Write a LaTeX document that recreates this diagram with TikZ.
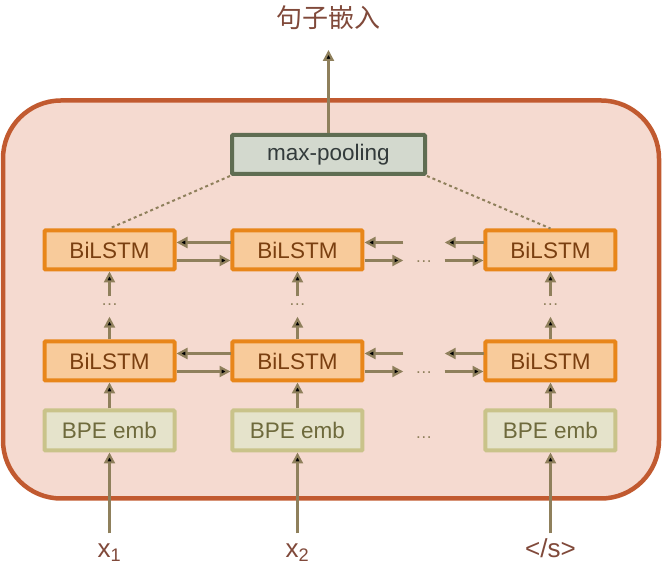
\documentclass[tikz,border=0pt]{standalone}
\usepackage{fontspec}
\setmainfont{Liberation Sans}
\newfontfamily\cjk{Noto Sans CJK SC}
\usepackage{tikz}
\usetikzlibrary{matrix,positioning,arrows.meta}

\definecolor{enclline}{HTML}{C15A30}
\definecolor{enclfill}{HTML}{F5DAD0}
\definecolor{poolline}{HTML}{5F6D52}
\definecolor{poolfill}{HTML}{D3D9CE}
\definecolor{pooltext}{HTML}{333B3B}
\definecolor{lstmline}{HTML}{E8861A}
\definecolor{lstmfill}{HTML}{F8CB9B}
\definecolor{lstmtext}{HTML}{7A3F10}
\definecolor{bpeline}{HTML}{C9C38A}
\definecolor{bpefill}{HTML}{E5E3CB}
\definecolor{bpetext}{HTML}{6E6A3C}
\definecolor{arrowc}{HTML}{8F805C}
\definecolor{labtext}{HTML}{80493A}

\begin{document}
\begin{tikzpicture}[x=1pt,y=1pt,
  box/.style={draw,line width=4pt,rounded corners=1pt,inner sep=0pt,minimum width=130pt,font=\fontsize{22.5}{26}\selectfont},
  lstm/.style={box,draw=lstmline,fill=lstmfill,text=lstmtext,minimum height=39pt},
  bpe/.style={box,draw=bpeline,fill=bpefill,text=bpetext,minimum height=40pt},
  pool/.style={box,draw=poolline,fill=poolfill,text=pooltext,minimum width=193pt,minimum height=39pt},
  gap/.style={inner sep=0pt,minimum width=41pt,text height=25pt,text depth=0pt,text=arrowc,font=\fontsize{17}{20}\selectfont},
  vgap/.style={gap,minimum width=0pt,text height=9pt,text depth=11pt},
  lab/.style={text=labtext,font=\fontsize{26}{30}\selectfont,inner xsep=0pt,inner ysep=10pt,text height=14pt,text depth=6pt},
  title/.style={text=labtext,font=\cjk\fontsize{26}{30}\selectfont,inner xsep=0pt,inner ysep=18pt,text height=20pt,text depth=4pt},
  arr/.style={draw=arrowc,line width=2.2pt,-{Stealth[inset=0pt,length=11pt,width=11pt]}},
  hi/.style={transform canvas={yshift=7.5pt}},
  lo/.style={transform canvas={yshift=-10.5pt}},
  pooldash/.style={draw=arrowc,line width=2pt,dash pattern=on 3pt off 3pt},
  encl/.style={draw=enclline,fill=enclfill,line width=4.5pt,rounded corners=58pt}]
  \useasboundingbox (0,0) rectangle (662,578);
  \draw[encl] (3,79.5) rectangle (659,477.5);

  \node[pool] (pool) at (328.5,423.5) {max-pooling};
  \node[title,above=83pt of pool] (title) {句子嵌入};

  \matrix (m) [matrix of nodes,row sep=23pt,column sep=54pt,nodes={anchor=center}] at (330,237.5)
  {
     |[lstm]| BiLSTM & |[lstm]| BiLSTM &[-15pt] |[gap]| \dots &[-15pt] |[lstm]| BiLSTM \\[2pt]
     |[vgap]| \dots  & |[vgap]| \dots  &[-15pt]                &[-15pt] |[vgap]| \dots  \\
     |[lstm]| BiLSTM & |[lstm]| BiLSTM &[-15pt] |[gap]| \dots &[-15pt] |[lstm]| BiLSTM \\[3pt]
     |[bpe]| BPE emb & |[bpe]| BPE emb &[-15pt] |[gap,text height=16pt]| \dots &[-15pt] |[bpe]| BPE emb \\};

  \node[lab,below=81pt of m-4-1] (x1) {x\textsubscript{1}};
  \node[lab,below=81pt of m-4-2] (x2) {x\textsubscript{2}};
  \node[lab,below=81pt of m-4-4] (eos) {</s>};

  \path[arr]
    (x1) edge (m-4-1)
    (x2) edge (m-4-2)
    (eos) edge (m-4-4)
    (m-4-1) edge (m-3-1)
    (m-4-2) edge (m-3-2)
    (m-4-4) edge (m-3-4)
    (m-3-1) edge (m-2-1)
    (m-3-2) edge (m-2-2)
    (m-3-4) edge (m-2-4)
    (m-2-1) edge (m-1-1)
    (m-2-2) edge (m-1-2)
    (m-2-4) edge (m-1-4)
    (pool) edge (title);
  \path[arr]
    (m-1-2) edge[hi] (m-1-1)
    (m-1-1) edge[lo] (m-1-2)
    (m-1-3) edge[hi] (m-1-2)
    (m-1-2) edge[lo] (m-1-3)
    (m-1-4) edge[hi] (m-1-3)
    (m-1-3) edge[lo] (m-1-4)
    (m-3-2) edge[hi] (m-3-1)
    (m-3-1) edge[lo] (m-3-2)
    (m-3-3) edge[hi] (m-3-2)
    (m-3-2) edge[lo] (m-3-3)
    (m-3-4) edge[hi] (m-3-3)
    (m-3-3) edge[lo] (m-3-4);
  \path[pooldash]
    (pool.south west) edge (m-1-1.north)
    (pool.south east) edge (m-1-4.north);
\end{tikzpicture}
\end{document}
